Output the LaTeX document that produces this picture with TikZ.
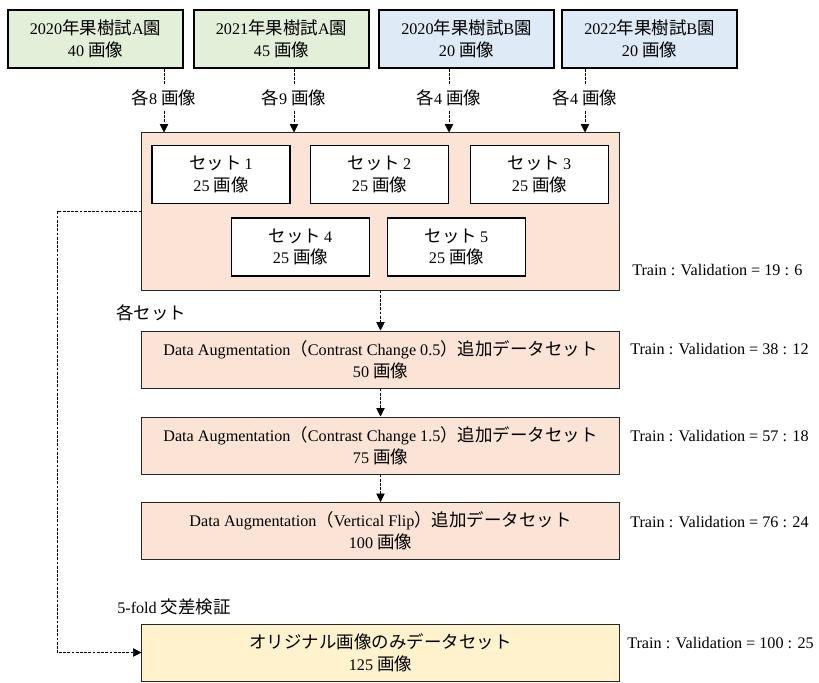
\documentclass[tikz,border=0pt]{standalone}
\usepackage{fontspec}
\setmainfont{Liberation Serif}
\newfontfamily\jpfont[Scale=1.08]{Noto Sans CJK JP}
\newcommand{\jp}[1]{{\jpfont #1}}
\usetikzlibrary{arrows.meta}
\definecolor{areagreen}{HTML}{E2EFD9}
\definecolor{areablue}{HTML}{DEEAF6}
\definecolor{setpink}{HTML}{FBE4D5}
\definecolor{cvyellow}{HTML}{FFF2CC}

\begin{document}
\begin{tikzpicture}[x=0.025cm, y=-0.025cm,
    font=\fontsize{11.5pt}{15.5pt}\selectfont,
    orchard/.style={rectangle, draw, line width=1.1pt, minimum width=4.375cm, minimum height=1.45cm, align=center},
    subset/.style={rectangle, draw, fill=white, line width=1pt, minimum width=3.45cm, minimum height=1.45cm, align=center},
    stage/.style={rectangle, draw=black!85, line width=0.7pt, fill=setpink, minimum width=11.925cm, minimum height=1.425cm, align=center},
    ratio/.style={anchor=west, inner sep=0pt},
    flow/.style={dash pattern=on 2pt off 1pt, line width=0.5pt, -{Triangle[length=6pt,width=6pt]}}]

    \useasboundingbox (0,0) rectangle (819,682);

    % Orchard data sources
    \foreach \i/\x/\col/\txt in {1/95.5/areagreen/{2020\jp{年果樹試}A\jp{園}\\40 \jp{画像}},
                                2/281.5/areagreen/{2021\jp{年果樹試}A\jp{園}\\45 \jp{画像}},
                                3/466.5/areablue/{2020\jp{年果樹試}B\jp{園}\\20 \jp{画像}},
                                4/649.5/areablue/{2022\jp{年果樹試}B\jp{園}\\20 \jp{画像}}} {
        \node[orchard, fill=\col] (src\i) at (\x,39) {\txt};
    }

    % Container of the five sets
    \node[rectangle, draw=black!85, line width=0.7pt, fill=setpink, minimum width=11.925cm, minimum height=3.925cm] (sets) at (380.5,211.5) {};

    \foreach \i/\x/\y in {1/221/174.5, 2/379.5/174.5, 3/539.5/174.5, 4/300.5/247, 5/456.5/247} {
        \node[subset] (set\i) at (\x,\y) {\jp{セット}\,\i\\25 \jp{画像}};
    }

    % Images taken from each orchard
    \foreach \i/\x/\n in {1/164/8, 2/294/9, 3/449/4, 4/585/4} {
        \coordinate (pick\i) at (\x,98);
        \draw[flow] (src\i.south -| pick\i) -- (sets.north -| pick\i);
        \node[fill=white, inner sep=3pt] (pick\i label) at (pick\i) {\jp{各}\n\ \jp{画像}};
    }

    % Augmentation stages
    \node[stage] (aug1) at (380.5,359.5) {Data Augmentation\jp{（}Contrast Change 0.5\jp{）追加データセット}\\50 \jp{画像}};
    \node[stage] (aug2) at (380.5,445.5) {Data Augmentation\jp{（}Contrast Change 1.5\jp{）追加データセット}\\75 \jp{画像}};
    \node[stage] (aug3) at (380.5,531) {Data Augmentation\jp{（}Vertical Flip\jp{）追加データセット}\\100 \jp{画像}};
    \node[stage, fill=cvyellow] (orig) at (380.5,652.5) {\jp{オリジナル画像のみデータセット}\\125 \jp{画像}};

    \draw[flow] (sets) -- (aug1);
    \draw[flow] (aug1) -- (aug2);
    \draw[flow] (aug2) -- (aug3);

    % Original sets go straight to cross validation
    \coordinate (bend) at (57,0);
    \draw[flow] (sets.west) -- (sets.west -| bend) |- (orig.west);

    % Side notes
    \node[anchor=west, inner sep=0pt] (eachset) at (116,313) {\jp{各セット}};
    \node[anchor=west, inner sep=0pt] (kfold) at (117,607) {5-fold \jp{交差検証}};

    \node[ratio] (r0) at (632,270) {Train : Validation = 19 : 6};
    \node[ratio] (r1) at (630,349) {Train : Validation = 38 : 12};
    \node[ratio] (r2) at (630,436) {Train : Validation = 57 : 18};
    \node[ratio] (r3) at (630,522) {Train : Validation = 76 : 24};
    \node[ratio] (r4) at (627,643) {Train : Validation = 100 : 25};
\end{tikzpicture}
\end{document}
